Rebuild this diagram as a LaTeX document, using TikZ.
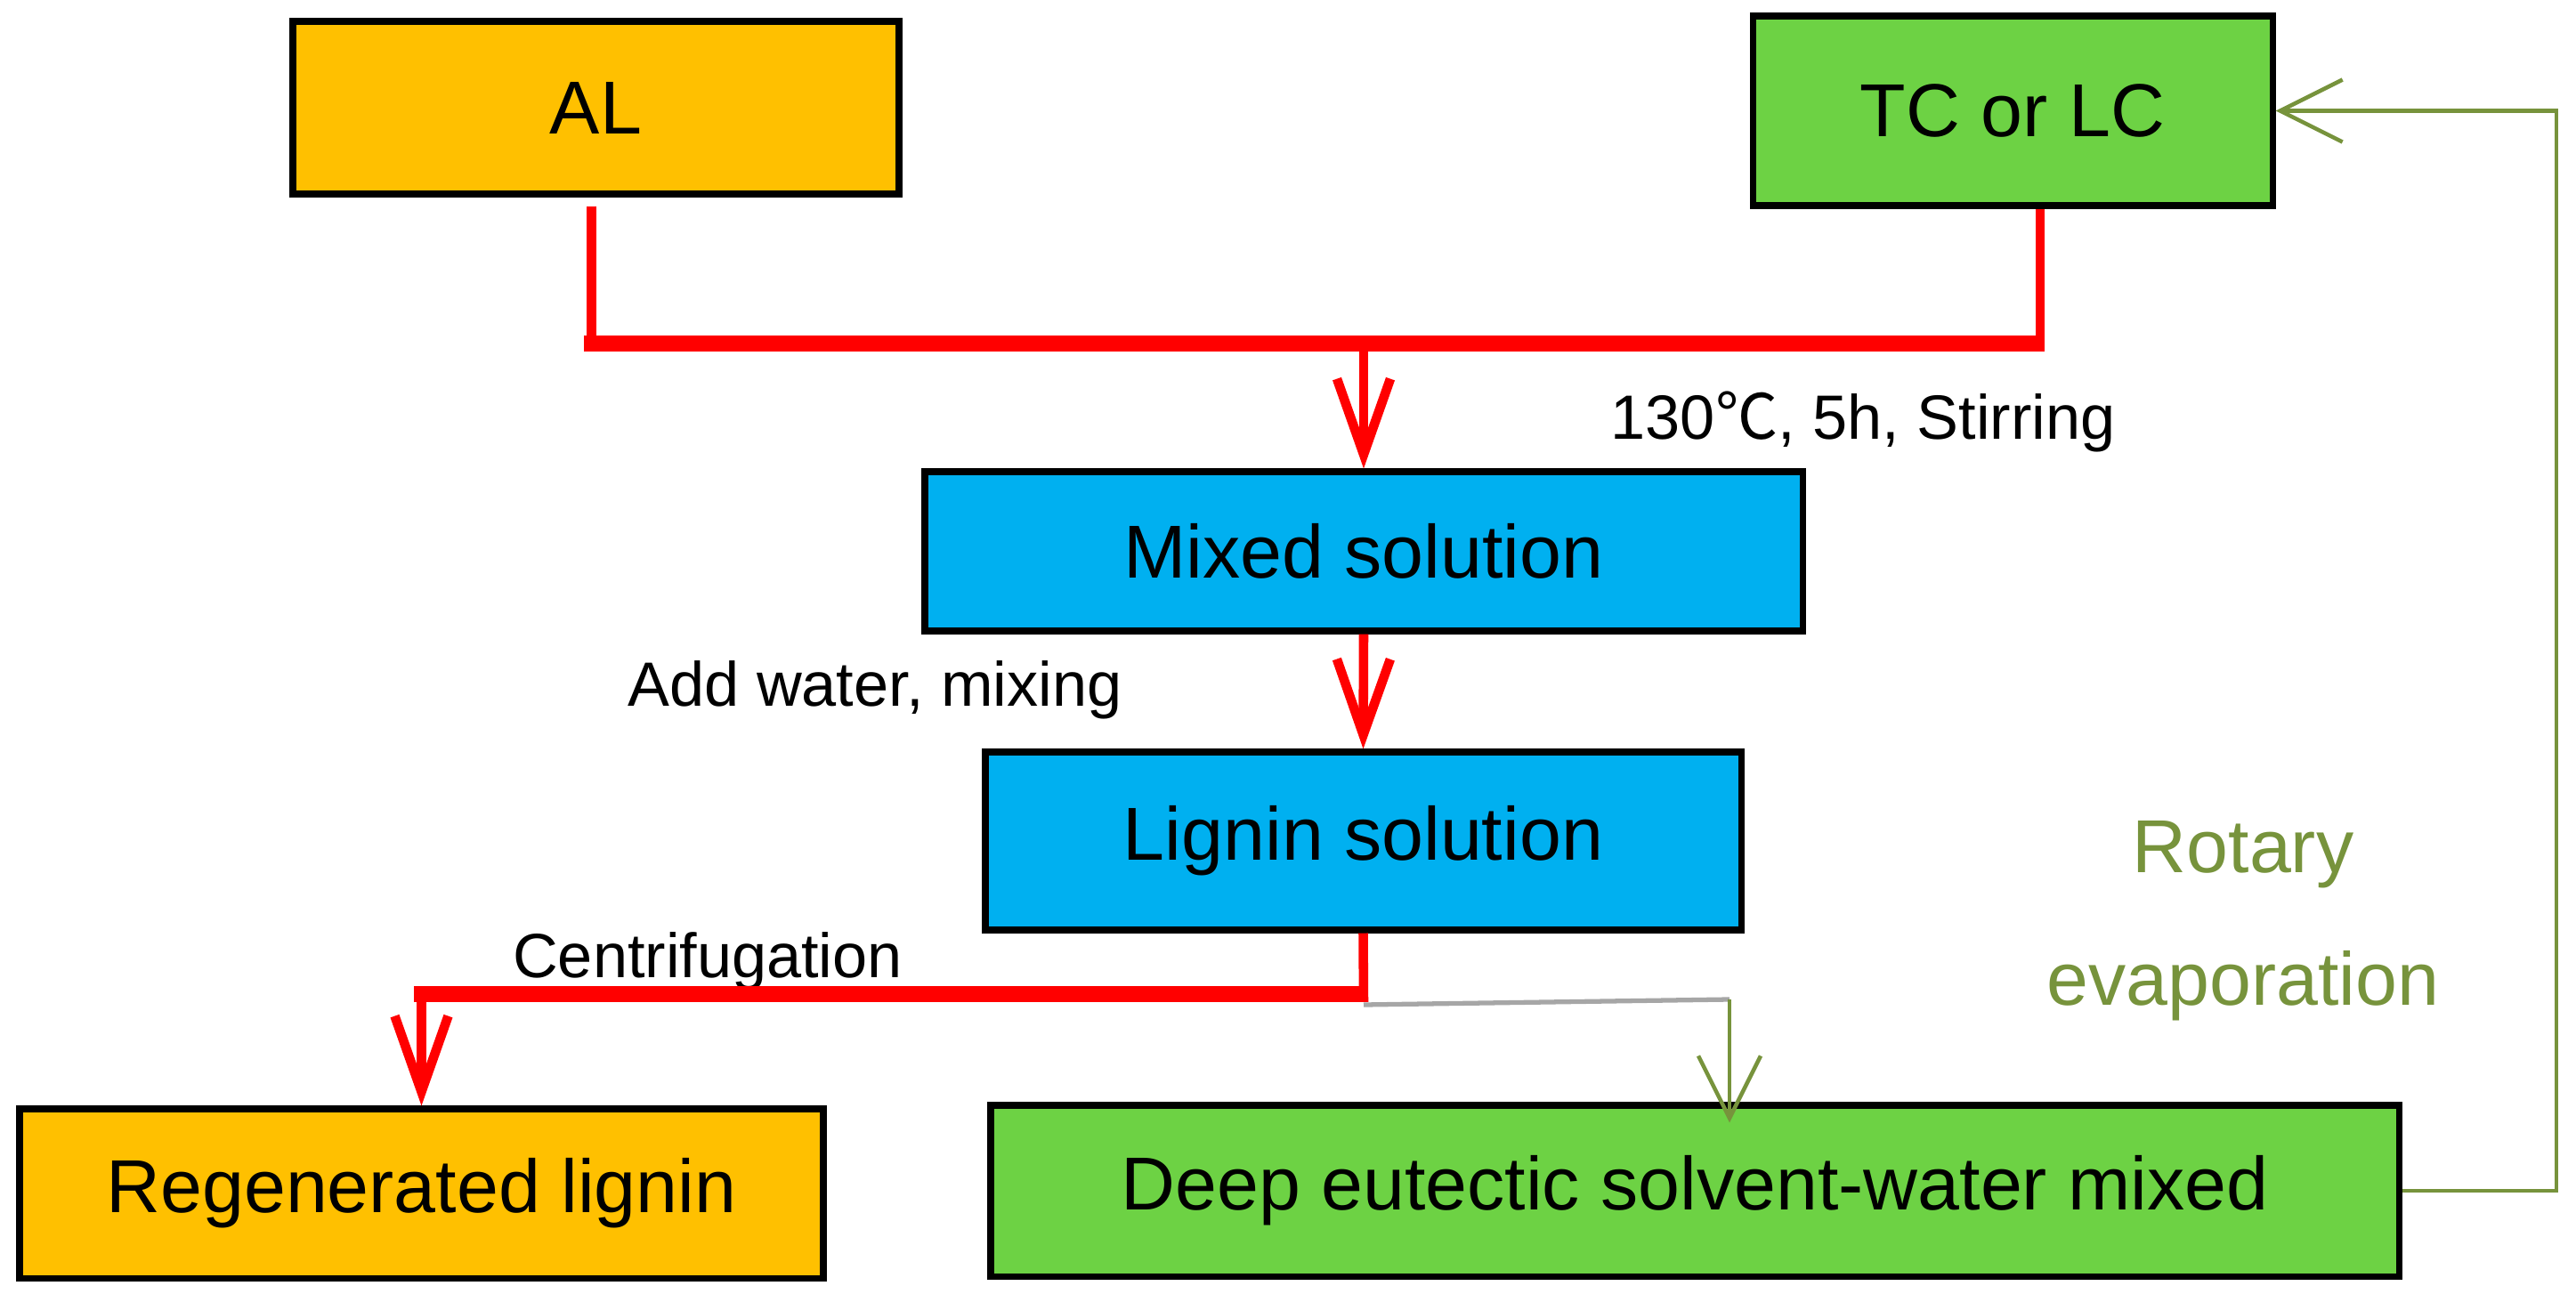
\documentclass[tikz,border=0pt]{standalone}
\usepackage{fontspec}
\setmainfont{Liberation Sans}
\newfontfamily\cjk{Noto Sans CJK SC}
\definecolor{ALorange}{HTML}{FFC000}
\definecolor{DESgreen}{HTML}{6DD244}
\definecolor{MIXblue}{HTML}{00B0F0}
\definecolor{ROTolive}{HTML}{77933C}
\usetikzlibrary{arrows.meta, positioning, calc}

\begin{document}
\begin{tikzpicture}[
      every node/.style={align=center},
      box/.style={draw=black, line width=2pt, inner sep=0pt, font=\fontsize{24}{29}\selectfont},
      lbl/.style={font=\fontsize{20}{24}\selectfont},
      redln/.style={red, line width=3pt},
      redbar/.style={red, line width=5pt, line cap=rect},
      redarr/.style={-{Straight Barb[length=0.85cm, width=0.6cm]}, red, line width=3pt},
      grnarr/.style={-{Straight Barb[length=0.7cm, width=0.7cm]}, ROTolive, line width=1.3pt}
   ]
      \useasboundingbox (0,0) rectangle (28.94,-14.63);
      \node[box, fill=ALorange, minimum width=6.81cm, minimum height=1.94cm] (al) at (6.695,-1.21) {AL};
      \node[box, fill=DESgreen, minimum width=5.84cm, minimum height=2.13cm] (tc) at (22.61,-1.245) {TC or LC};
      \node[box, fill=MIXblue, minimum width=9.86cm, minimum height=1.79cm] (mix) at (15.32,-6.195) {Mixed solution};
      \node[box, fill=MIXblue, minimum width=8.49cm, minimum height=2.0cm] (lig) at (15.315,-9.45) {Lignin solution};
      \node[box, fill=ALorange, minimum width=9.03cm, minimum height=1.9cm] (regen) at (4.735,-13.41) {Regenerated lignin};
      \node[box, fill=DESgreen, minimum width=15.82cm, minimum height=1.92cm] (des) at (19.04,-13.38) {Deep eutectic solvent-water mixed};
      \node[lbl] (heat) at (20.93,-4.74) {130{\cjk ℃}, 5h, Stirring};
      \node[lbl] (water) at (9.83,-7.75) {Add water, mixing};
      \node[lbl] (centri) at (7.95,-10.80) {Centrifugation};
      \node[font=\fontsize{24}{42.5}\selectfont, text=ROTolive] (rotary) at (25.2,-10.35) {Rotary\\evaporation};
      \coordinate (join) at (15.32,-3.86);
      \coordinate (split) at (15.32,-11.17);
      \coordinate (turn) at (19.43,-11.23);
      \coordinate (back) at (28.72,0);
      \draw[redln] ([xshift=-0.05cm, yshift=-0.1cm]al.south) -- ([xshift=-0.05cm, yshift=-2.5pt]al.south |- join);
      \draw[redln] ([xshift=0.31cm]tc.south) -- ([xshift=0.31cm, yshift=-2.5pt]tc.south |- join);
      \draw[redbar] ([xshift=-0.05cm]al.south |- join) -- ([xshift=0.26cm]tc.south |- join);
      \draw[redarr] (join) -- (mix.north);
      \draw[redarr] (mix.south) -- (lig.north);
      \draw[redln] (lig.south) -- ([yshift=-2.5pt]split);
      \draw[redbar] ([xshift=-0.04cm]split) -- (split -| regen.north);
      \draw[redarr] ([yshift=2.5pt]split -| regen.north) -- (regen.north);
      \draw[gray!70, line width=1.5pt] ([yshift=-0.12cm]split) -- (turn);
      \draw[grnarr] (turn) -- ([yshift=-0.23cm]des.north -| turn);
      \draw[grnarr] (des.east) -- (des.east -| back) -- (tc.east -| back) -- (tc.east);
   \end{tikzpicture}
\end{document}
